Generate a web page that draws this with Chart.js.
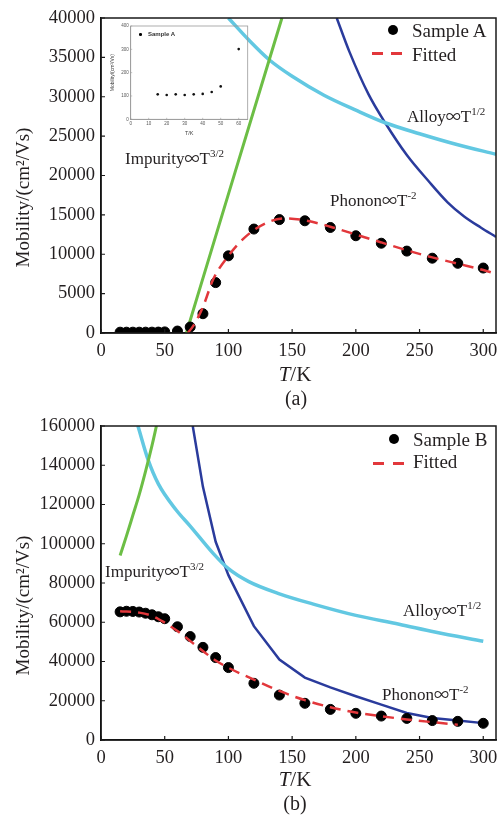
<!DOCTYPE html>
<html>
<head>
<meta charset="utf-8">
<title>Mobility vs Temperature</title>
<script src="https://cdn.jsdelivr.net/npm/chart.js"></script>
<style>
  body { margin: 0; background: #fff; }
  #page { position: relative; width: 502px; height: 816px; overflow: hidden;
          font-family: 'Liberation Serif', 'Times New Roman', serif; color: #231f20; }
  canvas { position: absolute; }
  .txt { position: absolute; white-space: nowrap; line-height: 1; }
  .ann { font-size: 17px; }
  .inf { font-family: 'Noto Sans CJK SC', sans-serif; font-size: 15px; }
  .sup { font-size: 11px; position: relative; top: -7px; }
  .leg { font-size: 19px; }
  .ytitle { font-size: 19px; width: 200px; height: 19px; text-align: center; transform: rotate(-90deg); }
  .dot { position: absolute; width: 10px; height: 10px; border-radius: 50%; background: #000; }
  .dash { position: absolute; width: 11px; height: 2.5px; background: #e2373b; }
  .ileg { position: absolute; font-family: 'Liberation Sans', Arial, sans-serif; font-size: 6px; font-weight: bold; color: #333; line-height: 1; }
</style>
</head>
<body>
<div id="page">
  <canvas id="chartA" width="502" height="408" style="left:0;top:0"></canvas>
  <canvas id="chartB" width="502" height="408" style="left:0;top:408px"></canvas>
  <canvas id="inset" width="152" height="124" style="left:100px;top:16px"></canvas>

  <!-- panel (a) text -->
  <div class="txt ytitle" style="left:-78px;top:188px">Mobility/(cm²/Vs)</div>
  <div class="txt ann" style="left:125px;top:150px">Impurity<span class="inf">∞</span>T<span class="sup">3/2</span></div>
  <div class="txt ann" style="left:407px;top:108px">Alloy<span class="inf">∞</span>T<span class="sup">1/2</span></div>
  <div class="txt ann" style="left:330px;top:192px">Phonon<span class="inf">∞</span>T<span class="sup">-2</span></div>
  <div class="dot" style="left:388px;top:25px"></div>
  <div class="txt leg" style="left:412px;top:21px">Sample A</div>
  <div class="dash" style="left:372px;top:52px"></div>
  <div class="dash" style="left:391px;top:52px"></div>
  <div class="txt leg" style="left:412px;top:45px">Fitted</div>
  <div class="txt" style="left:245px;top:364px;width:100px;text-align:center;font-size:21px"><i>T</i>/K</div>
  <div class="txt" style="left:246px;top:388px;width:100px;text-align:center;font-size:20px">(a)</div>

  <!-- inset legend -->
  <div class="dot" style="left:139px;top:33px;width:2.6px;height:2.6px"></div>
  <div class="ileg" style="left:148px;top:31px">Sample A</div>

  <!-- panel (b) text -->
  <div class="txt ytitle" style="left:-78px;top:596px">Mobility/(cm²/Vs)</div>
  <div class="txt ann" style="left:105px;top:563px">Impurity<span class="inf">∞</span>T<span class="sup">3/2</span></div>
  <div class="txt ann" style="left:403px;top:602px">Alloy<span class="inf">∞</span>T<span class="sup">1/2</span></div>
  <div class="txt ann" style="left:382px;top:686px">Phonon<span class="inf">∞</span>T<span class="sup">-2</span></div>
  <div class="dot" style="left:389px;top:434px"></div>
  <div class="txt leg" style="left:413px;top:430px">Sample B</div>
  <div class="dash" style="left:373px;top:462px"></div>
  <div class="dash" style="left:393px;top:462px"></div>
  <div class="txt leg" style="left:413px;top:452px">Fitted</div>
  <div class="txt" style="left:245px;top:769px;width:100px;text-align:center;font-size:21px"><i>T</i>/K</div>
  <div class="txt" style="left:245px;top:793px;width:100px;text-align:center;font-size:20px">(b)</div>
</div>

<script>
// ---- axis ticks ----
const tempTicks = [0, 50, 100, 150, 200, 250, 300];
const mobTicksA = [0, 5000, 10000, 15000, 20000, 25000, 30000, 35000, 40000];
const mobTicksB = [0, 20000, 40000, 60000, 80000, 100000, 120000, 140000, 160000];
const insetTempTicks = [0, 10, 20, 30, 40, 50, 60];
const insetMobTicks = [0, 100, 200, 300, 400];

// ---- sample A (panel a) ----
const tempA = [15, 20, 25, 30, 35, 40, 45, 50, 60, 70, 80, 90, 100, 120, 140, 160, 180, 200, 220, 240, 260, 280, 300];
const mobilityA = [105, 103, 105, 104, 106, 108, 117, 141, 250, 760, 2450, 6400, 9800, 13200, 14400, 14250, 13400, 12350, 11400, 10400, 9500, 8850, 8250];
const fitTempA = [68, 72, 80, 88, 100, 114, 130, 145, 160, 180, 200, 220, 240, 260, 280, 300, 310];
const fitA = [0, 800, 3300, 6800, 9800, 12300, 14000, 14550, 14300, 13500, 12500, 11500, 10500, 9600, 8800, 8000, 7500];
const impTempA = [67, 105, 142];
const impA = [0, 20300, 40000];
const alloyTempA = [100, 116, 132, 150, 175, 200, 223, 250, 280, 310];
const alloyA = [40000, 37200, 34700, 32600, 30200, 28300, 26700, 25300, 23900, 22700];
const phononTempA = [185, 195, 210, 223, 240, 257, 272, 285, 298, 310];
const phononA = [40000, 35700, 30300, 26700, 22600, 19300, 16600, 14800, 13400, 12200];

// ---- inset: sample A at low temperature ----
const insetTemp = [15, 20, 25, 30, 35, 40, 45, 50, 60];
const insetMobility = [107, 104, 107, 104, 107, 109, 117, 141, 301];

// ---- sample B (panel b) ----
const tempB = [15, 20, 25, 30, 35, 40, 45, 50, 60, 70, 80, 90, 100, 120, 140, 160, 180, 200, 220, 240, 260, 280, 300];
const mobilityB = [65300, 65600, 65500, 65200, 64600, 63800, 62800, 61800, 57700, 52700, 47200, 42000, 36900, 28900, 22900, 18700, 15600, 13600, 12200, 11000, 9900, 9500, 8500];
const fitTempB = [15, 30, 40, 50, 60, 70, 80, 90, 100, 120, 140, 160, 180, 200, 220, 240, 260, 280];
const fitB = [65600, 64900, 63300, 59800, 55500, 50500, 45300, 40500, 36800, 30800, 25000, 20300, 16700, 14000, 12100, 10500, 9100, 7800];
const impTempB = [15, 20, 25, 30, 35, 40, 43.5];
const impB = [94000, 104000, 114500, 125000, 137000, 150000, 160000];
const alloyTempB = [29, 37, 45, 59, 70, 88, 100, 116, 140, 168, 200, 234, 262, 300];
const alloyB = [160000, 142700, 130500, 117200, 109000, 95100, 87300, 80700, 74500, 69000, 63500, 59000, 55000, 50300];
const phononTempB = [72, 80, 90, 100, 120, 140, 160, 180, 200, 220, 240, 260, 280, 300];
const phononB = [160000, 129000, 101000, 84000, 58000, 41000, 31800, 26800, 22300, 18000, 13800, 11200, 9900, 8600];

Chart.defaults.font.family = "'Liberation Serif', 'Times New Roman', serif";
Chart.defaults.color = '#231f20';

const pts = (xs, ys) => xs.map((x, i) => ({ x: x, y: ys[i] }));
const fixedTicks = list => s => { s.ticks = list.map(v => ({ value: v })); };
// fixed box size, and no extra room asked for by overhanging end labels
const fixedBox = (w, h) => s => {
    if (w !== null) s.width = w;
    if (h !== null) s.height = h;
    s.paddingLeft = 0; s.paddingRight = 0; s.paddingTop = 0; s.paddingBottom = 0;
};

// box round the plot area, with tick marks pointing inwards
const frame = {
    id: 'frame',
    afterDatasetsDraw(chart, args, opts) {
        const a = chart.chartArea;
        const ctx = chart.ctx;
        const sx = chart.scales.x, sy = chart.scales.y;
        ctx.save();
        ctx.strokeStyle = opts.color;
        ctx.lineWidth = opts.width;
        ctx.strokeRect(a.left, a.top, a.right - a.left, a.bottom - a.top);
        ctx.lineWidth = opts.tickWidth;
        ctx.beginPath();
        sx.ticks.forEach(t => {
            const px = sx.getPixelForValue(t.value);
            ctx.moveTo(px, a.bottom);
            ctx.lineTo(px, a.bottom - opts.tick);
        });
        sy.ticks.forEach(t => {
            const py = sy.getPixelForValue(t.value);
            ctx.moveTo(a.left, py);
            ctx.lineTo(a.left + opts.tick, py);
        });
        ctx.stroke();
        ctx.restore();
    }
};

function curve(label, xs, ys, color, width, extra) {
    return Object.assign({
        label: label,
        data: pts(xs, ys),
        showLine: true,
        borderColor: color,
        borderWidth: width,
        pointRadius: 0,
        pointHoverRadius: 0,
        cubicInterpolationMode: 'monotone',
        order: 2
    }, extra || {});
}

function mobilityChart(id, c) {
    return new Chart(document.getElementById(id), {
        type: 'scatter',
        data: {
            datasets: [
                { label: c.sample, data: pts(c.t, c.mu), backgroundColor: '#000', borderColor: '#000',
                  pointRadius: 5, pointHoverRadius: 5, order: 1 },
                curve('Fitted', c.fitT, c.fit, '#e2373b', 2.5, { borderDash: [11, 7], order: 0 }),
                curve('Impurity', c.impT, c.imp, '#6cbe45', 3),
                curve('Alloy', c.alloyT, c.alloy, '#62c8e2', 3.5),
                curve('Phonon', c.phT, c.ph, '#2a3b9c', 2.5, c.phonExtra)
            ]
        },
        options: {
            responsive: false,
            animation: false,
            layout: { padding: { left: 0, right: 4, top: 18, bottom: 0 } },
            plugins: {
                legend: { display: false },
                tooltip: { enabled: false },
                frame: { color: '#1a1a1a', width: 1.5, tick: 4, tickWidth: 1.2 }
            },
            scales: {
                x: {
                    type: 'linear', min: 0, max: 310,
                    afterFit: fixedBox(null, c.xh),
                    afterBuildTicks: fixedTicks(tempTicks),
                    ticks: { padding: 7, maxRotation: 0, autoSkip: false, font: { size: 18.5 }, color: '#231f20' },
                    grid: { display: false, drawTicks: false },
                    border: { color: '#000', width: 1.5 }
                },
                y: {
                    min: 0, max: c.ymax,
                    afterFit: fixedBox(101, null),
                    afterBuildTicks: fixedTicks(c.yTicks),
                    ticks: { padding: 6, autoSkip: false, font: { size: 18.5 }, color: '#231f20',
                             callback: v => String(v) },
                    grid: { display: false, drawTicks: false },
                    border: { color: '#000', width: 1.5 }
                }
            }
        },
        plugins: [frame]
    });
}

mobilityChart('chartA', {
    sample: 'Sample A', t: tempA, mu: mobilityA, fitT: fitTempA, fit: fitA,
    impT: impTempA, imp: impA, alloyT: alloyTempA, alloy: alloyA, phT: phononTempA, ph: phononA,
    ymax: 40000, yTicks: mobTicksA, xh: 75
});

mobilityChart('chartB', {
    sample: 'Sample B', t: tempB, mu: mobilityB, fitT: fitTempB, fit: fitB,
    impT: impTempB, imp: impB, alloyT: alloyTempB, alloy: alloyB, phT: phononTempB, ph: phononB,
    phonExtra: { cubicInterpolationMode: 'default', tension: 0 },
    ymax: 160000, yTicks: mobTicksB, xh: 76
});

// small inset in panel (a)
const insetFont = { family: "'Liberation Sans', Arial, sans-serif", size: 4.5 };
new Chart(document.getElementById('inset'), {
    type: 'scatter',
    data: {
        datasets: [{ label: 'Sample A', data: pts(insetTemp, insetMobility),
                     backgroundColor: '#111', borderWidth: 0, pointRadius: 1.3, pointHoverRadius: 1.3 }]
    },
    options: {
        responsive: false,
        animation: false,
        layout: { padding: { left: 0, right: 4.3, top: 10, bottom: 0 } },
        plugins: {
            legend: { display: false },
            tooltip: { enabled: false },
            frame: { color: '#9a9a9a', width: 0.8, tick: 1.5, tickWidth: 0.6 }
        },
        scales: {
            x: {
                type: 'linear', min: 0, max: 65,
                afterFit: fixedBox(null, 20.7),
                afterBuildTicks: fixedTicks(insetTempTicks),
                ticks: { padding: 2, maxRotation: 0, autoSkip: false, font: insetFont, color: '#555' },
                grid: { display: false, drawTicks: false },
                border: { color: '#9a9a9a', width: 0.8 },
                title: { display: true, text: 'T/K', color: '#444', padding: { top: 0, bottom: 3.7 },
                         font: { family: "'Liberation Sans', Arial, sans-serif", size: 5.5 } }
            },
            y: {
                min: 0, max: 400,
                afterFit: fixedBox(30.7, null),
                afterBuildTicks: fixedTicks(insetMobTicks),
                ticks: { padding: 2, autoSkip: false, font: insetFont, color: '#555' },
                grid: { display: false, drawTicks: false },
                border: { color: '#9a9a9a', width: 0.8 },
                title: { display: true, text: 'Mobility/(cm²/Vs)', color: '#444', padding: { top: 10, bottom: 0 },
                         font: { family: "'Liberation Sans', Arial, sans-serif", size: 5 } }
            }
        }
    },
    plugins: [frame]
});
</script>
</body>
</html>
